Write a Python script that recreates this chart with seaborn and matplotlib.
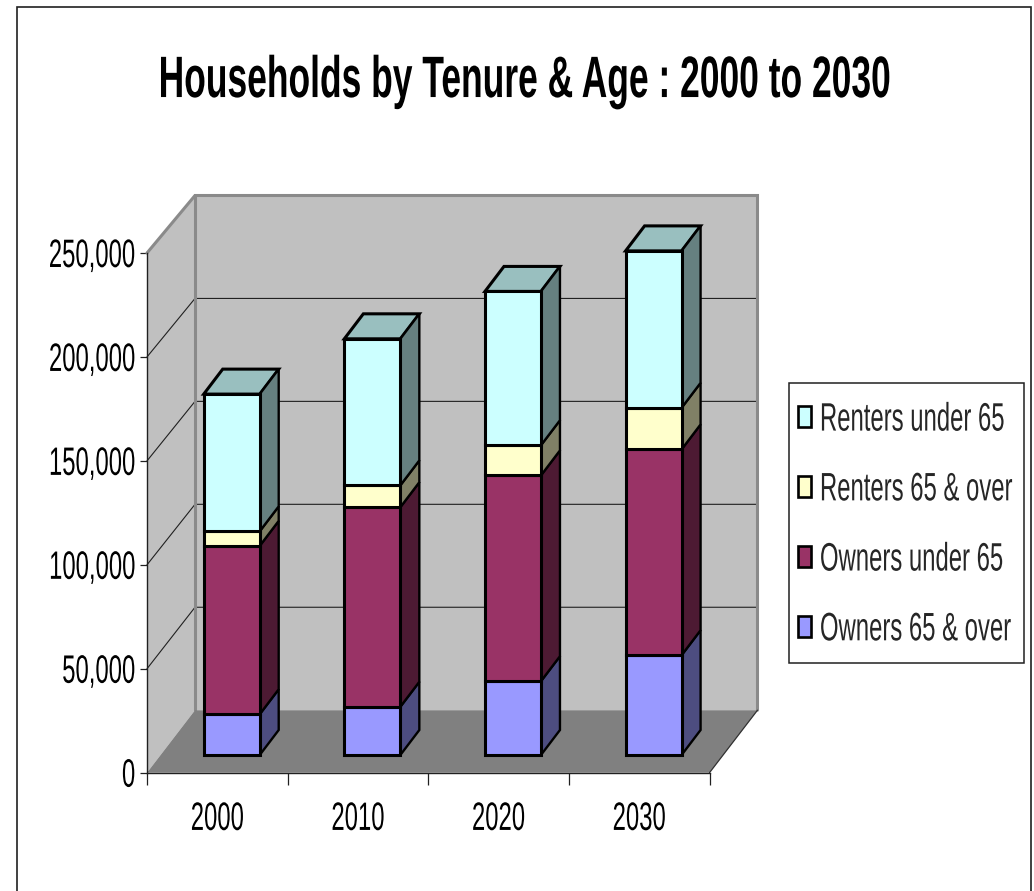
import matplotlib
matplotlib.use("Agg")
import matplotlib.pyplot as plt
import numpy as np
import pandas as pd
import seaborn as sns
from matplotlib.patches import Polygon, Rectangle, Patch
from matplotlib.patheffects import AbstractPathEffect
from matplotlib.transforms import Affine2D
from matplotlib.ticker import FuncFormatter

years = ["2000", "2010", "2020", "2030"]
owners_65_over = [19600, 23200, 35500, 48000]
owners_under_65 = [81000, 96000, 99000, 99000]
renters_65_over = [7000, 10500, 14500, 20000]
renters_under_65 = [66000, 70500, 74000, 75500]
series_names = ["Owners 65 & over", "Owners under 65", "Renters 65 & over", "Renters under 65"]
series_values = [owners_65_over, owners_under_65, renters_65_over, renters_under_65]
series_colors = ["#9999FF", "#993366", "#FFFFCC", "#CCFFFF"]
title = "Households by Tenure & Age : 2000 to 2030"
y_ticks = [0, 50000, 100000, 150000, 200000, 250000]

W, H = 1034, 891
sns.set_theme(style="white")
plt.rcParams["font.family"] = ["Liberation Sans", "DejaVu Sans"]


class Tall(AbstractPathEffect):
    """Draw a real text taller than its font size, keeping its width."""
    def __init__(self, factor):
        super().__init__()
        self.factor = factor

    def draw_path(self, renderer, gc, tpath, affine, rgbFace=None):
        p = tpath.get_extents().y1 / 2
        t = Affine2D().translate(0, -p).scale(1, self.factor).translate(0, p)
        renderer.draw_path(gc, tpath, t + affine, rgbFace)


def fx(x):
    return x / W


def fy(y):
    return 1 - y / H


def shade(color, k):
    return tuple(c * k for c in matplotlib.colors.to_rgb(color))


fig = plt.figure(figsize=(W / 100, H / 100), dpi=100, facecolor="white")
L, R, T, B = 147, 709.5, 253, 772.7
ax = fig.add_axes([fx(L), fy(B), fx(R - L), (B - T) / H])
ax.patch.set_visible(False)

# chart-area frame, running off the bottom of the picture
fig.add_artist(Rectangle((fx(16.5), -0.02), fx(1031 - 16.5), fy(6.5) + 0.02, transform=fig.transFigure,
                         fill=False, edgecolor="#202020", linewidth=1.2))

ax.set_xlim(-0.5, 3.5)
ax.set_ylim(0, 250000)
ux = (R - L) / 4       # pixels per category
uy = (B - T) / 250000  # pixels per household

# depth of the box and of the bars, in data units
wall_dx = 48 / ux
wall_dy0 = 62.5 / uy
wall_k = 515 / 520
bar_ox, bar_oy = 14.4 / ux, 17.7 / uy
bar_dx, bar_dy = 19 / ux, 25 / uy
bar_w = 56 / ux
top_v = y_ticks[-1]
x0, x1 = -0.5, 3.5


def back(v):
    return wall_dy0 + v * wall_k


wall_gray, floor_gray, edge_gray = "#C0C0C0", "#808080", "#8A8A8A"
kw = dict(clip_on=False)
ax.add_patch(Polygon([(x0, 0), (x0 + wall_dx, back(0)), (x0 + wall_dx, back(top_v)), (x0, top_v)],
                     facecolor=wall_gray, edgecolor="none", zorder=0.5, **kw))
ax.add_patch(Polygon([(x0 + wall_dx, back(0)), (x1 + wall_dx, back(0)), (x1 + wall_dx, back(top_v)),
                      (x0 + wall_dx, back(top_v))],
                     facecolor=wall_gray, edgecolor="none", zorder=0.5, **kw))
for v in y_ticks[1:-1]:
    ax.plot([x0, x0 + wall_dx, x1 + wall_dx], [v, back(v), back(v)], color="#202020", lw=0.8, zorder=0.7, **kw)
ax.plot([x0, x0 + wall_dx, x1 + wall_dx, x1 + wall_dx], [top_v, back(top_v), back(top_v), back(0)],
        color=edge_gray, lw=2.2, zorder=0.8, solid_joinstyle="miter", **kw)
ax.plot([x0 + wall_dx, x0 + wall_dx], [back(top_v), back(0)], color=edge_gray, lw=2.2, zorder=0.8, **kw)
ax.add_patch(Polygon([(x0, 0), (x1, 0), (x1 + wall_dx, back(0)), (x0 + wall_dx, back(0))],
                     facecolor=floor_gray, edgecolor="none", zorder=1, **kw))
ax.plot([x1, x1 + wall_dx], [0, back(0)], color="#303030", lw=0.9, zorder=1.1, **kw)

# stacked bars: front faces from seaborn, depth faces from the same values
lw_bar = 2.2
bottoms = np.zeros(len(years))
for i, (name, vals, col) in enumerate(zip(series_names, series_values, series_colors)):
    df = pd.DataFrame({"year": years, "value": vals})
    n = len(ax.patches)
    sns.barplot(data=df, x="year", y="value", bottom=bottoms, color=col, saturation=1, width=bar_w,
                edgecolor="black", linewidth=lw_bar, errorbar=None, ax=ax, zorder=3 + i * 0.1)
    for p in ax.patches[n:]:
        p.set_x(p.get_x() + bar_ox)
        p.set_y(p.get_y() + bar_oy)
        p.set_clip_on(False)
        p.set_joinstyle("miter")
    for j, v in enumerate(vals):
        xr = j + bar_ox + bar_w / 2
        xl = xr - bar_w
        y0 = bottoms[j] + bar_oy
        y1 = y0 + v
        ax.add_patch(Polygon([(xr, y0), (xr + bar_dx, y0 + bar_dy), (xr + bar_dx, y1 + bar_dy), (xr, y1)],
                             facecolor=shade(col, 0.5), edgecolor="black", linewidth=1.7,
                             zorder=2.9 + i * 0.01, **kw))
        if i == len(series_names) - 1:
            ax.add_patch(Polygon([(xl, y1), (xr, y1), (xr + bar_dx, y1 + bar_dy), (xl + bar_dx, y1 + bar_dy)],
                                 facecolor=shade(col, 0.75), edgecolor="black", linewidth=lw_bar,
                                 joinstyle="miter", zorder=2.9, **kw))
    bottoms = bottoms + np.array(vals)

ax.set_xlim(x0, x1)
ax.set_ylim(0, top_v)
ax.set_xlabel("")
ax.set_ylabel("")
for s in ["top", "right"]:
    ax.spines[s].set_visible(False)
for s in ["left", "bottom"]:
    ax.spines[s].set_color("#202020")
    ax.spines[s].set_linewidth(1.0)
    ax.spines[s].set_zorder(1.2)

tick_size = 17.2
tall = 1.66
ax.set_xticks(np.arange(x0, x1 + 1), [""] * 5)
ax.set_xticks(range(len(years)), years, minor=True)
ax.tick_params(axis="x", which="major", length=8.6, width=0.9, color="#202020", bottom=True)
ax.tick_params(axis="x", which="minor", length=0, pad=25, labelsize=tick_size, labelcolor="black", bottom=False)
ax.set_yticks(y_ticks)
ax.yaxis.set_major_formatter(FuncFormatter(lambda v, _: f"{int(v):,}"))
ax.tick_params(axis="y", length=5, width=0.9, color="#202020", pad=3.5, labelsize=tick_size, labelcolor="black", left=True)
for t in list(ax.get_xticklabels(minor=True)) + list(ax.get_yticklabels()):
    t.set_path_effects([Tall(tall)])

fig.text(fx(525), fy(88.7), title, ha="center", va="baseline", fontsize=25.5, fontweight="bold", color="black",
         path_effects=[Tall(1.65)])

# legend box
fig.add_artist(Rectangle((fx(788.5), fy(662.7)), fx(1024 - 788.5), (662.7 - 382.7) / H, transform=fig.transFigure,
                         facecolor="white", edgecolor="#202020", linewidth=1.1, zorder=2))
handles = [Patch(facecolor=c, edgecolor="black", linewidth=1.9, label=n)
           for n, c in zip(series_names, series_colors)][::-1]
leg = fig.legend(handles=handles, loc="upper left", bbox_to_anchor=(fx(797.5), fy(406)),
                 bbox_transform=fig.transFigure, ncol=1, fontsize=tick_size,
                 frameon=False, handlelength=0.58, handleheight=1.0, handletextpad=0.36, labelspacing=1.93,
                 borderpad=0, borderaxespad=0)
leg.set_zorder(3)
for t in leg.get_texts():
    t.set_path_effects([Tall(tall)])

fig.savefig("out.png", dpi=100, facecolor="white")
